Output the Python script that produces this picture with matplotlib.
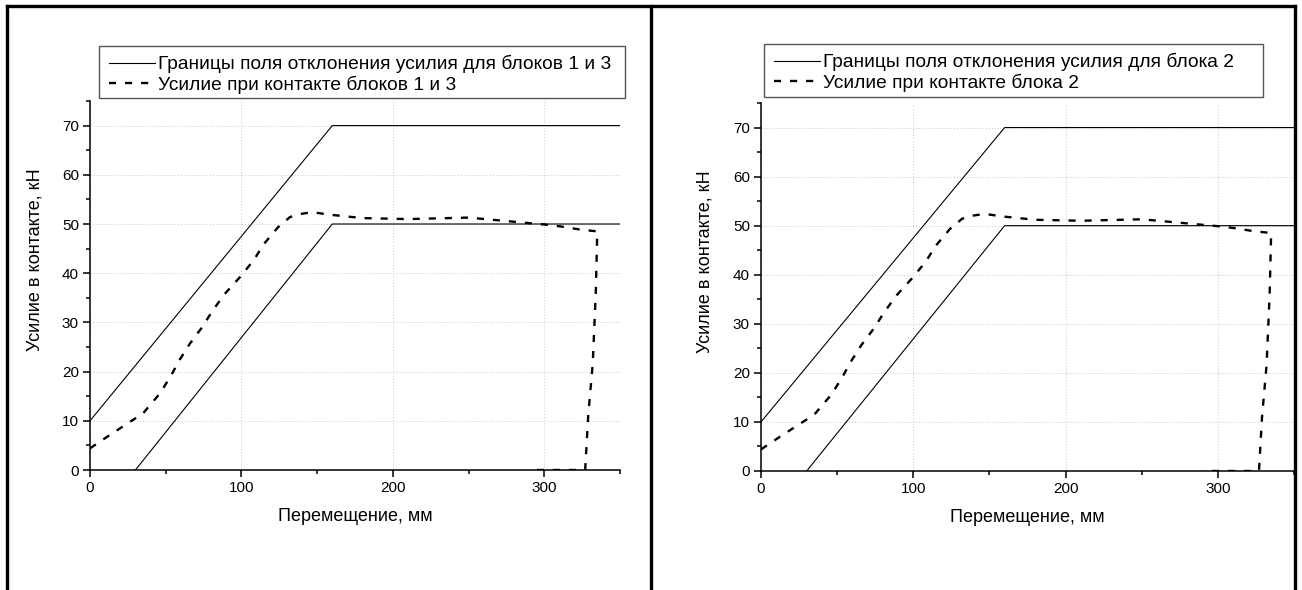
import matplotlib
matplotlib.use('Agg')
import matplotlib.pyplot as plt
from matplotlib.lines import Line2D
from matplotlib.patches import Rectangle
from matplotlib.ticker import MultipleLocator

plt.rcParams['font.family'] = ['Liberation Sans', 'DejaVu Sans']

# boundaries of the allowed force band (same for both panels)
x_upper = [0, 160, 350]
y_upper = [10, 70, 70]
x_lower = [30, 160, 350]
y_lower = [0, 50, 50]

# measured contact force, loading then unloading back to zero
x_force = [0, 13, 25, 35, 46, 53, 59, 66, 74, 81, 89, 99, 108, 115, 124, 132, 138, 147,
           158, 180, 210, 250, 275, 289, 300, 311, 323, 335, 334, 332, 329, 327, 315, 290]
y_force = [4.4, 7.1, 9.5, 11.5, 15.5, 18.9, 22.3, 25.7, 29.0, 32.4, 35.8, 39.2, 42.6, 46.0,
           49.3, 51.4, 52.0, 52.4, 51.9, 51.2, 51.0, 51.3, 50.6, 50.2, 49.9, 49.5, 48.9,
           48.5, 36.0, 21.6, 11.0, 0, 0, 0]

band_labels = ['Границы поля отклонения усилия для блоков 1 и 3',
               'Границы поля отклонения усилия для блока 2']
force_labels = ['Усилие при контакте блоков 1 и 3',
                'Усилие при контакте блока 2']
x_label = 'Перемещение, мм'
y_label = 'Усилие в контакте, кН'

W, H = 1302, 590
fig = plt.figure(figsize=(W / 100, H / 100), dpi=100)


def px_rect(left, top, width, height):
    # pixel box (from top-left) -> figure fraction
    return [left / W, 1 - (top + height) / H, width / W, height / H]


# axes boxes in pixels: left, top, width, height
axes_boxes = [(90, 101, 530, 369), (761, 103, 533, 368)]
# legend frames in pixels: left, top, right, bottom
legend_boxes = [(99, 46, 625, 98), (764, 44, 1263, 97)]

for i in range(2):
    ax = fig.add_axes(px_rect(*axes_boxes[i]))
    ax.plot(x_upper, y_upper, color='black', lw=0.8, label=band_labels[i])
    ax.plot(x_lower, y_lower, color='black', lw=0.8)
    ax.plot(x_force, y_force, color='black', lw=1.7, dashes=(3.0, 3.8), label=force_labels[i])

    ax.set_xlim(0, 350)
    ax.set_ylim(0, 75)
    ax.xaxis.set_major_locator(MultipleLocator(100))
    ax.xaxis.set_minor_locator(MultipleLocator(50))
    ax.yaxis.set_major_locator(MultipleLocator(10))
    ax.yaxis.set_minor_locator(MultipleLocator(5))
    ax.grid(True, which='major', color='#c8c8c8', lw=0.7, ls=(0, (1, 2)))
    ax.set_axisbelow(True)
    for s in ['top', 'right']:
        ax.spines[s].set_visible(False)
    for s in ['left', 'bottom']:
        ax.spines[s].set_linewidth(1.1)
    ax.tick_params(which='major', direction='out', length=5, width=1.1, labelsize=11, pad=3)
    ax.tick_params(which='minor', direction='out', length=3, width=1.1)

    ax.set_xlabel(x_label, fontsize=13, labelpad=9)
    ax.set_ylabel(y_label, fontsize=13)
    ax.yaxis.set_label_coords(-47 / axes_boxes[i][2], 0.57)

    l, t, r, b = legend_boxes[i]
    fig.add_artist(Rectangle((l / W, 1 - b / H), (r - l) / W, (b - t) / H,
                             transform=fig.transFigure, fill=False, ec='#555555', lw=1.0))
    fig.legend(*ax.get_legend_handles_labels(), loc='upper left',
               bbox_to_anchor=((l + 10) / W, 1 - (t + 9) / H), bbox_transform=fig.transFigure,
               frameon=False, fontsize=13.8, borderpad=0, borderaxespad=0,
               labelspacing=0.12, handlelength=2.4, handletextpad=0.15)

# panel frames
frame_lw = 2.4
for xp in [7, 651, 1295]:
    fig.add_artist(Line2D([xp / W, xp / W], [0, 1 - 6 / H], transform=fig.transFigure,
                          color='black', lw=frame_lw))
fig.add_artist(Line2D([7 / W, 1295 / W], [1 - 6 / H, 1 - 6 / H], transform=fig.transFigure,
                      color='black', lw=frame_lw, solid_capstyle='projecting'))

fig.savefig('out.png', dpi=100)
